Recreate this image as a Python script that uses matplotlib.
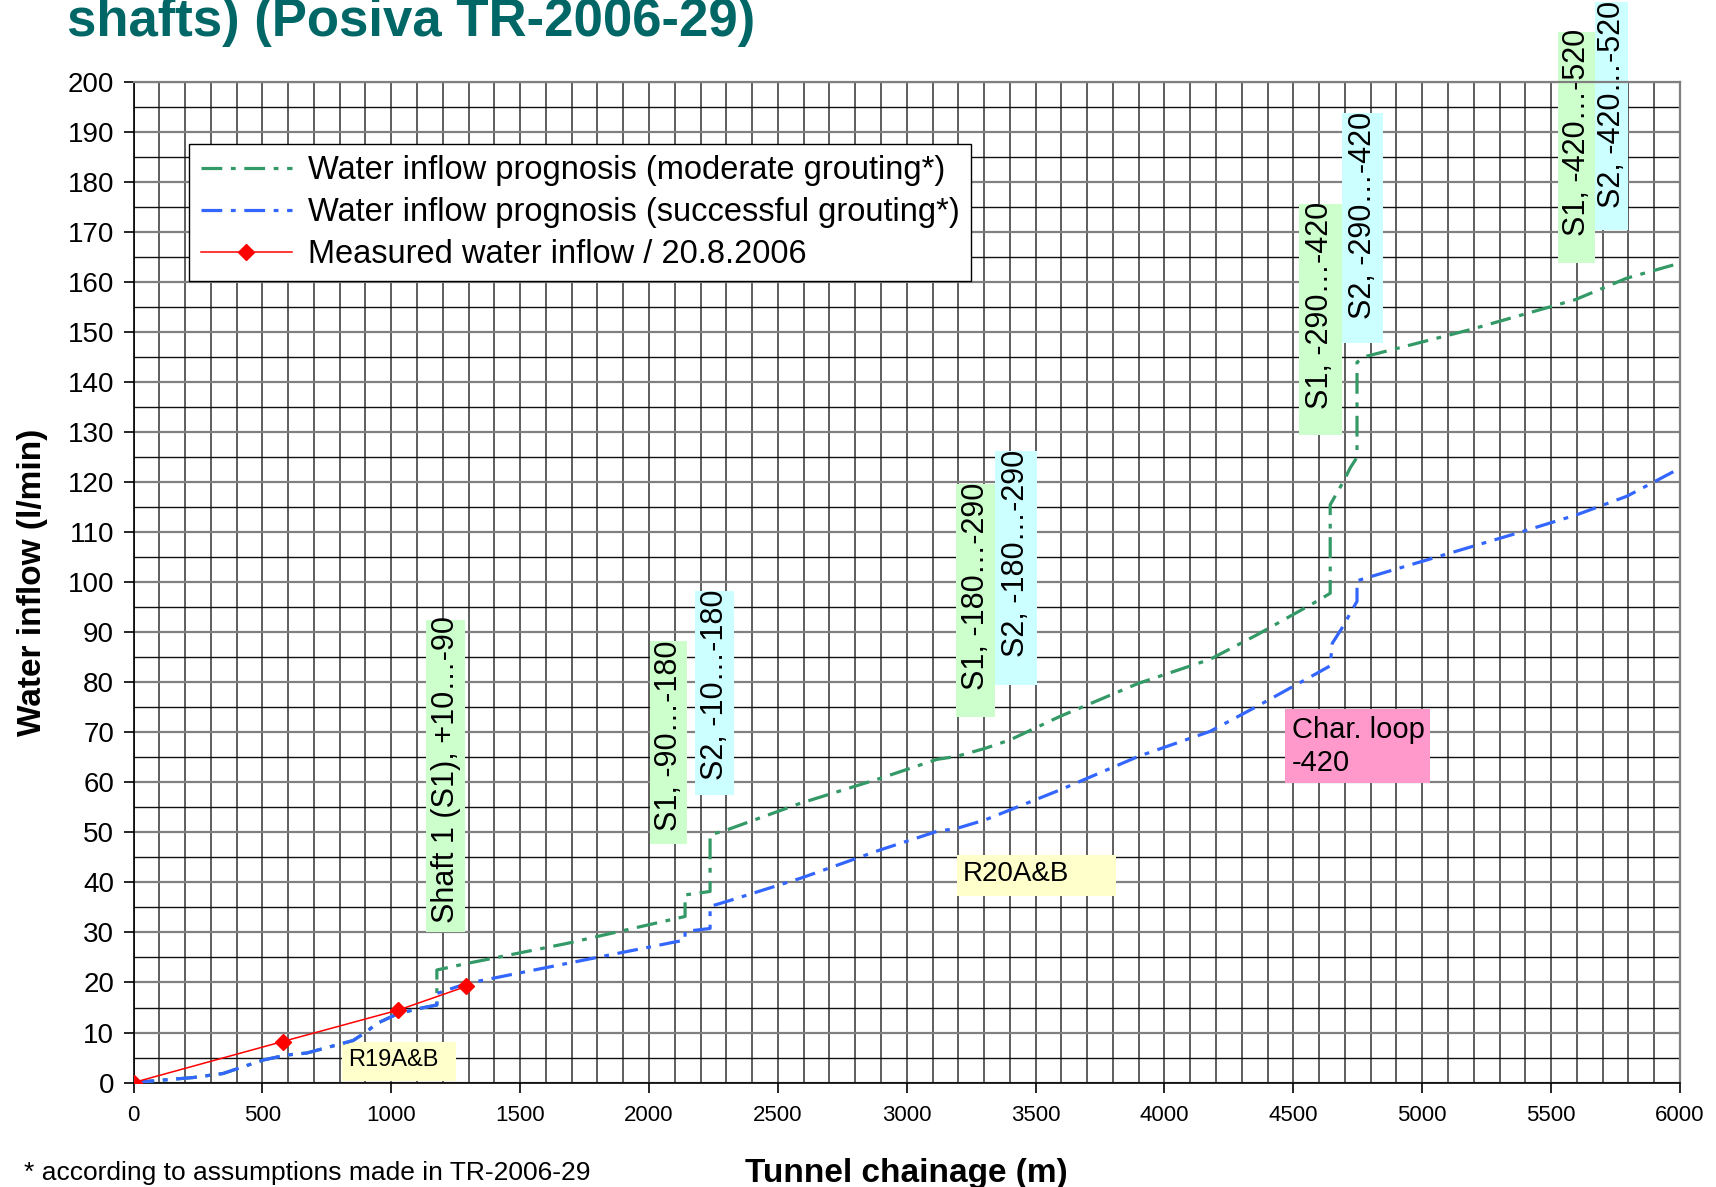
import numpy as np
import matplotlib
matplotlib.use('Agg')
import matplotlib.pyplot as plt
from matplotlib.patches import Rectangle

plt.rcParams['font.family'] = ['Liberation Sans', 'DejaVu Sans']

# tunnel chainage (m) and inflow (l/min)
moderate_x = [0, 231, 347, 503, 594, 672, 852, 905, 944, 1027, 1118, 1177, 1177, 1293, 1681,
              2140, 2140, 2237, 2237, 2302, 2586, 2897, 3117, 3194, 3304, 3401, 3595, 3899,
              4177, 4359, 4591, 4643, 4643, 4695, 4721, 4747, 4747, 4785, 5186, 5594, 5794, 6000]
moderate_y = [0, 1.0, 1.8, 4.5, 5.5, 5.9, 8.4, 10.2, 11.8, 13.8, 14.9, 15.5, 22.5, 23.8, 27.8,
              33.2, 37.5, 38.2, 49.5, 50.5, 55.8, 60.8, 64.6, 65.2, 66.8, 68.5, 73.2, 79.8,
              84.6, 89.5, 96.2, 97.8, 115.5, 120.2, 122.9, 125.0, 144.0, 145.2, 150.5, 156.5, 160.8, 163.8]

successful_x = [0, 231, 347, 503, 594, 672, 852, 905, 944, 1027, 1118, 1177, 1177, 1293, 1681,
                2140, 2140, 2237, 2237, 2302, 2586, 2897, 3117, 3194, 3304, 3401, 3595, 3899,
                4177, 4359, 4591, 4643, 4651, 4688, 4747, 4747, 4811, 5367, 5600, 5794, 6000]
successful_y = [0, 1.0, 1.8, 4.5, 5.5, 5.9, 8.4, 10.2, 11.8, 13.8, 14.9, 15.5, 17.8, 19.8, 23.8,
                28.5, 30.2, 30.8, 35.2, 36.2, 40.8, 46.5, 50.2, 50.8, 52.5, 54.5, 58.5, 65.2,
                70.2, 75.2, 81.8, 83.3, 87.8, 90.8, 96.2, 100.3, 101.3, 109.8, 113.5, 117.2, 122.8]

measured_x = [0, 579, 1028, 1290]
measured_y = [0, 8.2, 14.5, 19.2]

labels = ['Water inflow prognosis (moderate grouting*)',
          'Water inflow prognosis (successful grouting*)',
          'Measured water inflow / 20.8.2006']

GREEN = '#339966'
BLUE = '#3366FF'
RED = '#FF0000'
BOX_S1 = '#CCFFCC'
BOX_S2 = '#CCFFFF'

fig = plt.figure(figsize=(17.16, 11.87), dpi=100)
ax = fig.add_axes([0.0778, 0.088, 0.9012, 0.8429])

dash = (6.5, 2.7, 1.5, 2.7)
ax.plot(moderate_x, moderate_y, color=GREEN, lw=2.3, dashes=dash, zorder=3, label=labels[0])
ax.plot(successful_x, successful_y, color=BLUE, lw=2.3, dashes=dash, zorder=3.1, label=labels[1])
ax.plot(measured_x, measured_y, color=RED, lw=1.1, marker='D', ms=8, zorder=4, label=labels[2])

ax.set_xlim(0, 6000)
ax.set_ylim(0, 200)
ax.set_xticks(np.arange(0, 6001, 500))
ax.set_xticks(np.arange(0, 6001, 100), minor=True)
ax.set_yticks(np.arange(0, 201, 10))
ax.set_yticks(np.arange(0, 201, 5), minor=True)
ax.grid(which='major', axis='y', color='#808080', lw=1.6, zorder=0.5)
ax.grid(which='minor', axis='y', color='#111111', lw=1.0, zorder=0.5)
ax.grid(which='both', axis='x', color='#333333', lw=1.1, zorder=0.5)
ax.set_axisbelow(True)
ax.tick_params(which='minor', length=0)
ax.tick_params(axis='y', which='major', labelsize=20, length=7, width=1.2, pad=7)
ax.tick_params(axis='x', which='major', labelsize=16, length=7, width=1.2, pad=9)
for s in ['top', 'right']:
    ax.spines[s].set_color('#808080')
    ax.spines[s].set_linewidth(1.6)
for s in ['left', 'bottom']:
    ax.spines[s].set_color('black')
    ax.spines[s].set_linewidth(1.2)

# annotation boxes: (x0, x1, y0, y1, text y centre, colour, text)
vboxes = [
    (1135, 1286, 30.1, 92.5, 62.5, BOX_S1, 'Shaft 1 (S1), +10\u2026-90'),
    (2005, 2148, 47.7, 88.3, 69.3, BOX_S1, 'S1, -90\u2026-180'),
    (2179, 2330, 57.4, 98.3, 79.6, BOX_S2, 'S2, -10\u2026-180'),
    (3192, 3343, 73.1, 119.7, 99.1, BOX_S1, 'S1, -180\u2026-290'),
    (3343, 3505, 79.5, 126.3, 105.7, BOX_S2, 'S2, -180\u2026-290'),
    (4520, 4690, 129.4, 175.7, 155.4, BOX_S1, 'S1, -290\u2026-420'),
    (4690, 4849, 147.9, 193.9, 173.4, BOX_S2, 'S2, -290\u2026-420'),
    (5527, 5671, 163.9, 210.0, 190.0, BOX_S1, 'S1, -420\u2026-520'),
    (5671, 5798, 170.5, 216.0, 195.6, BOX_S2, 'S2, -420\u2026-520'),
]
for x0, x1, y0, y1, yc, col, txt in vboxes:
    ax.add_patch(Rectangle((x0, y0), x1 - x0, y1 - y0, facecolor=col, edgecolor='none',
                           zorder=1.5, clip_on=False))
    ax.text((x0 + x1) / 2, yc, txt, rotation=90, ha='center', va='center',
            fontsize=22, zorder=2, clip_on=False)

hboxes = [
    (4468, 5031, 59.9, 74.7, 4493, 67.2, '#FF99CC', 'Char. loop\n-420', 21),
    (808, 1251, 0.3, 8.2, 832, 4.6, '#FFFFCC', 'R19A&B', 17),
    (3196, 3812, 37.2, 45.5, 3219, 41.6, '#FFFFCC', 'R20A&B', 20),
]
for x0, x1, y0, y1, xt, yt, col, txt, fs in hboxes:
    ax.add_patch(Rectangle((x0, y0), x1 - x0, y1 - y0, facecolor=col, edgecolor='none', zorder=1.5))
    ax.text(xt, yt, txt, ha='left', va='center', fontsize=fs, linespacing=1.2, zorder=2)

leg = ax.legend(loc='upper left', bbox_to_anchor=(0.036, 0.938), borderaxespad=0,
                fontsize=23.5, frameon=True, fancybox=False, edgecolor='black', framealpha=1,
                handlelength=2.8, handletextpad=0.5, labelspacing=0.33, borderpad=0.35,
                numpoints=1)
leg.get_frame().set_linewidth(1.0)
leg.set_zorder(5)

ax.set_xlabel('Tunnel chainage (m)', fontsize=24, fontweight='bold')
ax.set_ylabel('Water inflow (l/min)', fontsize=24, fontweight='bold')
ax.xaxis.set_label_coords(0.5, -0.075)
ax.yaxis.set_label_coords(-0.055, 0.5)

fig.text(0.039, 0.9697, 'shafts) (Posiva TR-2006-29)', fontsize=38, fontweight='bold',
         color='#006666', ha='left', va='baseline')
fig.text(0.014, 0.002, '* according to assumptions made in TR-2006-29', fontsize=19,
         ha='left', va='bottom')

fig.savefig('out.png', dpi=100)
